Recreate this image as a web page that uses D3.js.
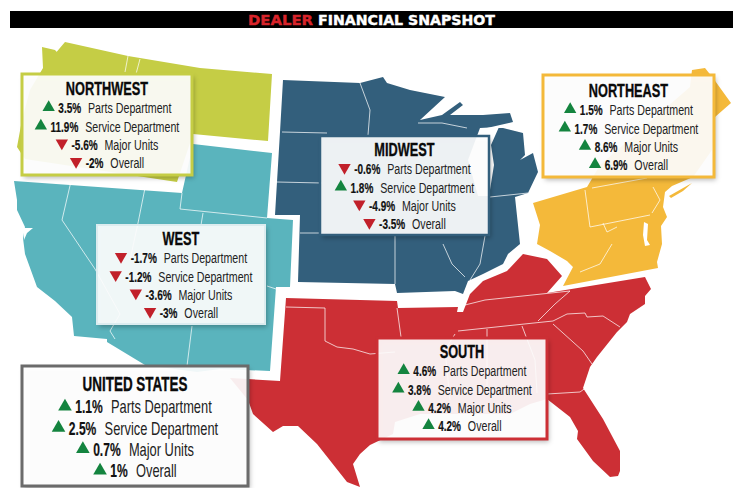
<!DOCTYPE html>
<html lang="en">
<head>
<meta charset="UTF-8">
<title>Dealer Financial Snapshot</title>
<script src="https://d3js.org/d3.v7.min.js"></script>
<style>
  html, body { margin: 0; padding: 0; background: #fff; }
  svg { display: block; }
  .val { font-family: "Liberation Sans", sans-serif; font-weight: 700; fill: #111; stroke: #111; stroke-width: 0.2; }
  .lab { font-family: "Liberation Sans", sans-serif; fill: #222; }
  .head { font-family: "Liberation Sans", sans-serif; font-weight: 700; fill: #0a0a0a; stroke: #0a0a0a; stroke-width: 0.35; }
</style>
</head>
<body>
<svg id="chart" width="740" height="488"></svg>
<script>
// values
const regions = ["Northwest", "West", "Midwest", "Northeast", "South", "United States"];
const departments = ["Parts Department", "Service Department", "Major Units", "Overall"];
const parts = [3.5, -1.7, -0.6, 1.5, 4.6, 1.1];
const service = [11.9, -1.2, 1.8, 1.7, 3.8, 2.5];
const majorUnits = [-5.6, -3.6, -4.9, 8.6, 4.2, 0.7];
const overall = [-2, -3, -3.5, 6.9, 4.2, 1];

// traced outlines, pixels
const nwShape = [[65,42],[68,47],[62,63],[56,70],[43,68],[42,47],[55,50],[62,58],[65,42],[128,56],[200,68],[272,74],[268,141],[193,134],[177,182],[25,159],[17,147],[22,120],[30,90],[43,68]];
const westShape = [[14,181],[182,193],[193,144],[272,153],[267,218],[293,220],[290,287],[276,287],[270,371],[220,369],[197,372],[145,365],[107,342],[107,339],[74,336],[72,317],[55,301],[37,287],[25,254],[23,238],[25,227],[17,210],[17,200]];
const bayShape = [[23,228],[33,228],[27,233],[24,240]];
const midShape = [[283,80],[360,83],[383,77],[387,83],[410,90],[445,97],[420,120],[442,115],[460,102],[463,105],[450,115],[483,115],[510,113],[513,122],[500,125],[487,128],[503,128],[523,133],[525,155],[520,160],[533,153],[538,172],[528,193],[515,197],[520,244],[508,254],[503,264],[483,274],[468,281],[463,294],[455,291],[397,293],[395,284],[298,282],[300,215],[275,215],[280,132]];
const lakeShape = [[480,128],[499,127],[491,145],[494,165],[489,196],[478,196],[468,160]];
const neShape = [[533,203],[587,187],[593,177],[600,165],[637,133],[690,87],[692,70],[705,68],[713,78],[731,103],[715,117],[712,150],[693,177],[672,186],[665,192],[663,207],[667,217],[661,226],[662,244],[657,262],[658,268],[563,286],[573,267],[567,261],[550,251],[537,244],[540,225]];
const liShape = [[669,196],[692,183],[683,191],[671,198]];
const chesapeake = [[644,222],[648,224],[647,240],[650,245],[645,246],[643,235]];
const southShape = [[286,298],[397,301],[398,308],[458,307],[457,312],[463,312],[470,294],[483,281],[507,271],[523,254],[547,259],[562,276],[547,293],[645,277],[651,289],[645,296],[645,304],[630,314],[627,322],[617,332],[597,357],[590,367],[583,388],[603,419],[620,451],[620,471],[618,476],[610,477],[593,461],[577,439],[578,431],[570,417],[547,399],[530,404],[510,414],[487,414],[420,414],[395,422],[393,434],[370,445],[360,454],[353,464],[360,487],[347,482],[317,444],[298,426],[283,426],[273,432],[253,414],[248,400],[230,378],[280,381]];

// state borders, pixels
const westLines = [[[72,177],[62,220],[95,269],[120,314],[110,331],[115,339]],[[145,188],[138,223],[130,260]],[[182,193],[180,209],[267,218]],[[203,213],[201,225]],[[192,326],[187,366]],[[267,286],[276,289]]];
const nwLines = [[[128,56],[125,72]],[[140,59],[136,74]]];
const midLines = [[[360,83],[370,110],[368,135]],[[282,132],[327,133]],[[277,182],[322,183]],[[300,233],[322,233]],[[395,236],[395,284]],[[443,244],[452,264],[465,277]],[[485,236],[480,264],[470,280]],[[418,123],[442,123],[467,128]],[[490,197],[528,193]]];
const neLines = [[[592,188],[647,178]],[[585,190],[590,227]],[[590,227],[650,215]],[[653,187],[660,200],[652,213]],[[603,223],[607,232],[617,227]],[[612,244],[600,264],[580,272]]];
const southLines = [[[286,307],[325,308],[325,341],[337,347],[353,349],[370,354],[395,352]],[[397,308],[401,337]],[[465,305],[485,300],[570,291]],[[458,331],[553,321]],[[570,291],[555,304],[538,321]],[[553,321],[567,314],[585,313],[587,317],[603,316],[620,327]],[[553,324],[583,351],[592,364]],[[522,326],[535,360],[537,393]],[[547,394],[580,392],[587,387]],[[487,329],[487,395]],[[455,334],[445,350],[450,400]]];

const landColors = { nw: "#c5cd45", west: "#5ab4bd", mid: "#335f7c", ne: "#f4b93a", south: "#cc2f35" };
const upColor = "#14843f", downColor = "#c1202a";

const svg = d3.select("#chart");
const defs = svg.append("defs");
const shadow = defs.append("filter").attr("id", "shadow").attr("x", "-10%").attr("y", "-10%").attr("width", "125%").attr("height", "125%");
shadow.append("feDropShadow").attr("dx", 2).attr("dy", 3).attr("stdDeviation", 2.5).attr("flood-color", "#000").attr("flood-opacity", 0.3);

// title bar
svg.append("rect").attr("x", 10).attr("y", 11).attr("width", 723).attr("height", 17).attr("fill", "#000");
svg.append("text").attr("x", 248).attr("y", 25).attr("textLength", 65).attr("lengthAdjust", "spacingAndGlyphs")
  .attr("font-family", "DejaVu Sans").attr("font-weight", 700).attr("font-size", 14).attr("fill", "#d8232a").attr("stroke", "#d8232a").attr("stroke-width", 0.4).text("DEALER");
svg.append("text").attr("x", 318).attr("y", 25).attr("textLength", 177).attr("lengthAdjust", "spacingAndGlyphs")
  .attr("font-family", "DejaVu Sans").attr("font-weight", 700).attr("font-size", 14).attr("fill", "#fff").attr("stroke", "#fff").attr("stroke-width", 0.4).text("FINANCIAL SNAPSHOT");

// map
const outline = d3.line().curve(d3.curveLinearClosed);
const border = d3.line().curve(d3.curveLinear);
const map = svg.append("g");

function land(shape, color, lines) {
  map.append("path").attr("d", outline(shape)).attr("fill", color);
  map.append("g").selectAll("path").data(lines).join("path")
    .attr("d", border).attr("fill", "none").attr("stroke", "#fff").attr("stroke-width", 0.9).attr("stroke-opacity", 0.8);
}
land(nwShape, landColors.nw, nwLines);
land(westShape, landColors.west, westLines);
map.append("path").attr("d", outline(bayShape)).attr("fill", "#fff");
land(midShape, landColors.mid, midLines);
map.append("path").attr("d", outline(lakeShape)).attr("fill", "#fff");
land(neShape, landColors.ne, neLines);
map.append("path").attr("d", outline(liShape)).attr("fill", landColors.ne);
map.append("path").attr("d", outline(chesapeake)).attr("fill", "#fff");
land(southShape, landColors.south, southLines);

// cards: box, border colour, font sizes, title y, first and last row y
const cards = [
  { x: 22, y: 74, w: 170, h: 101, c: landColors.nw, fs: 14.5, ts: 18.5, ty: 94.5, r0: 108, r1: 163, sw: 3, tri: 66 },
  { x: 97, y: 225, w: 168, h: 99, c: "#dcecef", fs: 14.5, ts: 18.5, ty: 245, r0: 258, r1: 313, sw: 2, tri: 66 },
  { x: 320, y: 136, w: 169, h: 99, c: landColors.mid, fs: 14.5, ts: 18.5, ty: 156, r0: 169, r1: 224, sw: 2.5, tri: 66 },
  { x: 543, y: 75, w: 171, h: 102, c: landColors.ne, fs: 14.5, ts: 18.5, ty: 97, r0: 110, r1: 165, sw: 3, tri: 66 },
  { x: 377, y: 338, w: 170, h: 101, c: landColors.south, fs: 14.5, ts: 18.5, ty: 358, r0: 371, r1: 426, sw: 3, tri: 66 },
  { x: 22, y: 366, w: 226, h: 120, c: "#6b6b6b", fs: 17.5, ts: 19.5, ty: 390.5, r0: 407, r1: 471, sw: 3, tri: 80 }
];
const columns = [parts, service, majorUnits, overall];
const headSqueeze = 0.69, valSqueeze = 0.69, labSqueeze = 0.735;

// no narrow face is installed, so scale the text sideways
function place(sel, x, y, k) {
  sel.attr("transform", `translate(${x},${y}) scale(${k},1)`);
}

cards.forEach((card, i) => {
  const g = svg.append("g");
  g.append("rect").attr("x", card.x).attr("y", card.y).attr("width", card.w).attr("height", card.h)
    .attr("fill", "#fff").attr("fill-opacity", 0.9).attr("filter", "url(#shadow)");
  g.append("rect").attr("x", card.x).attr("y", card.y).attr("width", card.w).attr("height", card.h)
    .attr("fill", "none").attr("stroke", card.c).attr("stroke-width", card.sw);
  const cx = card.x + card.w / 2;
  const head = g.append("text").attr("class", "head").attr("font-size", card.ts)
    .text(regions[i].toUpperCase());
  place(head, cx - head.node().getComputedTextLength() * headSqueeze / 2, card.ty, headSqueeze);

  const rowY = d3.scalePoint().domain(departments).range([card.r0, card.r1]);
  const triW = Math.sqrt(card.tri * 4 / Math.sqrt(3));
  departments.forEach((dep, j) => {
    const v = columns[j][i];
    const row = g.append("g").attr("transform", `translate(0,${rowY(dep)})`);
    const val = row.append("text").attr("class", "val").attr("font-size", card.fs).text(v + "%");
    const lab = row.append("text").attr("class", "lab").attr("font-size", card.fs).text(dep);
    const vw = val.node().getComputedTextLength() * valSqueeze, lw = lab.node().getComputedTextLength() * labSqueeze;
    const gap1 = 3.5, gap2 = card.fs * 0.47;
    const total = triW + gap1 + vw + gap2 + lw;
    const x0 = cx - total / 2;
    row.append("path")
      .attr("d", d3.symbol().type(d3.symbolTriangle).size(card.tri)())
      .attr("transform", `translate(${x0 + triW / 2},${v < 0 ? -1.5 : -0.5}) rotate(${v < 0 ? 180 : 0})`)
      .attr("fill", v < 0 ? downColor : upColor);
    place(val, x0 + triW + gap1, card.fs * 0.36, valSqueeze);
    place(lab, x0 + triW + gap1 + vw + gap2, card.fs * 0.36, labSqueeze);
  });
});
</script>
</body>
</html>
